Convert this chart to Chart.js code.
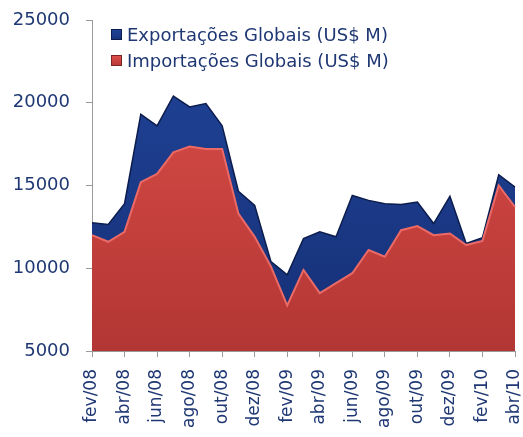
<!DOCTYPE html>
<html>
<head>
<meta charset="utf-8">
<script src="https://cdn.jsdelivr.net/npm/chart.js@4.4.1/dist/chart.umd.min.js"></script>
<style>
    html, body { margin: 0; padding: 0; background: #fff; }
    #wrap { width: 523px; height: 437px; }
</style>
</head>
<body>
<div id="wrap"><canvas id="grafico"></canvas></div>
<script>
    // meses (um ponto por mes, rotulo a cada dois)
    const meses = ["fev/08", "mar/08", "abr/08", "mai/08", "jun/08", "jul/08", "ago/08", "set/08", "out/08",
        "nov/08", "dez/08", "jan/09", "fev/09", "mar/09", "abr/09", "mai/09", "jun/09", "jul/09", "ago/09",
        "set/09", "out/09", "nov/09", "dez/09", "jan/10", "fev/10", "mar/10", "abr/10"];
    const exportacoes = [12750, 12650, 13900, 19300, 18600, 20400, 19750, 19950, 18600, 14650, 13800, 10400,
        9600, 11800, 12200, 11900, 14400, 14100, 13900, 13850, 14000, 12700, 14350, 11500, 11850, 15650, 14900];
    const importacoes = [12000, 11600, 12200, 15200, 15700, 17000, 17350, 17200, 17200, 13300, 11900, 10100,
        7750, 9900, 8500, 9100, 9700, 11100, 10700, 12300, 12550, 12000, 12100, 11400, 11650, 15000, 13700];
    const yTicks = [5000, 10000, 15000, 20000, 25000];

    const azulTexto = "#1f3874";
    const fonte = "'DejaVu Sans', Verdana, sans-serif";

    function gradArea(ctx, area, top, bottom) {
        let g = ctx.createLinearGradient(0, area.top, 0, area.bottom);
        g.addColorStop(0, top);
        g.addColorStop(1, bottom);
        return g;
    }

    const cores = {
        exp: ["#21459a", "#152f76"],
        imp: ["#e0504a", "#b23634"]
    };

    // legenda em duas linhas dentro da area do grafico
    const legenda = {
        id: "legenda",
        afterDraw(chart) {
            let ctx = chart.ctx;
            let itens = [
                { txt: chart.data.datasets[0].label, c: cores.exp, borda: "#0c1d4e" },
                { txt: chart.data.datasets[1].label, c: cores.imp, borda: "#7a2424" }
            ];
            ctx.save();
            ctx.font = "18px " + fonte;
            ctx.textBaseline = "middle";
            itens.forEach((it, i) => {
                let y = 35 + i * 26;
                let g = ctx.createLinearGradient(0, y - 6, 0, y + 6);
                g.addColorStop(0, it.c[0]);
                g.addColorStop(1, it.c[1]);
                ctx.fillStyle = g;
                ctx.fillRect(111, y - 6, 11, 11);
                ctx.strokeStyle = it.borda;
                ctx.lineWidth = 1;
                ctx.strokeRect(111.5, y - 5.5, 10, 10);
                ctx.fillStyle = azulTexto;
                ctx.fillText(it.txt, 127, y + 1);
            });
            ctx.restore();
        }
    };

    const ctx = document.getElementById("grafico").getContext("2d");
    new Chart(ctx, {
        type: "line",
        data: {
            labels: meses,
            datasets: [{
                label: "Exportações Globais (US$ M)",
                data: exportacoes,
                fill: "start",
                order: 0,
                borderColor: "#0c1d4e",
                borderWidth: 1.5,
                pointRadius: 0,
                tension: 0,
                backgroundColor: c => {
                    let a = c.chart.chartArea;
                    if (!a) return cores.exp[0];
                    return gradArea(c.chart.ctx, a, cores.exp[0], cores.exp[1]);
                }
            }, {
                label: "Importações Globais (US$ M)",
                data: importacoes,
                fill: "start",
                order: -1,
                borderColor: "#ec6a66",
                borderWidth: 2,
                pointRadius: 0,
                tension: 0,
                backgroundColor: c => {
                    let a = c.chart.chartArea;
                    if (!a) return cores.imp[0];
                    return gradArea(c.chart.ctx, a, cores.imp[0], cores.imp[1]);
                }
            }]
        },
        options: {
            responsive: true,
            maintainAspectRatio: false,
            animation: false,
            layout: { padding: { top: 20, right: 8, left: 0, bottom: 0 } },
            plugins: {
                legend: { display: false },
                tooltip: { enabled: false }
            },
            scales: {
                x: {
                    offset: false,
                    afterFit: s => {
                        s.height = 86;
                        s.paddingLeft = 0;
                        s.paddingRight = 0;
                    },
                    border: { color: "#9a9a9a", width: 1 },
                    grid: {
                        drawOnChartArea: false,
                        tickLength: 6,
                        color: c => (c.index % 2 ? "rgba(0,0,0,0)" : "#9a9a9a")
                    },
                    ticks: {
                        autoSkip: false,
                        maxRotation: 90,
                        minRotation: 90,
                        padding: 12,
                        color: azulTexto,
                        font: { family: fonte, size: 17 },
                        callback: (v, i) => (i % 2 ? "" : meses[i])
                    }
                },
                y: {
                    min: 5000,
                    max: 25000,
                    afterFit: s => {
                        s.width = 92;
                        s.paddingTop = 0;
                        s.paddingBottom = 0;
                    },
                    afterBuildTicks: s => { s.ticks = yTicks.map(v => ({ value: v })); },
                    border: { color: "#9a9a9a", width: 1 },
                    grid: {
                        drawOnChartArea: false,
                        tickLength: 6,
                        color: "#9a9a9a"
                    },
                    ticks: {
                        padding: 16,
                        color: azulTexto,
                        font: { family: fonte, size: 18 },
                        callback: v => String(v)
                    }
                }
            }
        },
        plugins: [legenda]
    });
</script>
</body>
</html>
